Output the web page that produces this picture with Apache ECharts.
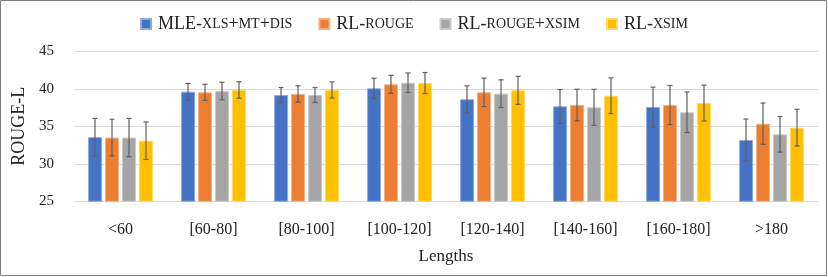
<!DOCTYPE html>
<html><head><meta charset="utf-8">
<script src="https://cdn.jsdelivr.net/npm/echarts@6/dist/echarts.min.js"></script>
<style>html,body{margin:0;padding:0;background:#fff}#c{width:828px;height:277px}</style>
</head><body><div id="c"></div>
<script>
const categories = ['<60', '[60-80]', '[80-100]', '[100-120]', '[120-140]', '[140-160]', '[160-180]', '>180'];
const seriesNames = ['MLE-xls+mt+dis', 'RL-rouge', 'RL-rouge+xsim', 'RL-xsim'];
const mleValues = [33.55, 39.62, 39.17, 40.06, 38.6, 37.66, 37.57, 33.17];
const mleErr = [2.5, 1.1, 1.0, 1.35, 1.8, 2.25, 2.65, 2.8];
const rougeValues = [33.5, 39.53, 39.31, 40.6, 39.53, 37.84, 37.84, 35.35];
const rougeErr = [2.45, 1.07, 1.1, 1.2, 1.9, 2.1, 2.6, 2.75];
const rougeXsimValues = [33.5, 39.7, 39.17, 40.81, 39.35, 37.53, 36.87, 33.93];
const rougeXsimErr = [2.55, 1.17, 1.0, 1.3, 1.85, 2.4, 2.7, 2.37];
const xsimValues = [33.08, 39.84, 39.84, 40.77, 39.8, 39.08, 38.1, 34.81];
const xsimErr = [2.5, 1.1, 1.08, 1.4, 1.87, 2.38, 2.4, 2.45];
const yTicks = [25, 30, 35, 40, 45];

const values = [mleValues, rougeValues, rougeXsimValues, xsimValues];
const errs = [mleErr, rougeErr, rougeXsimErr, xsimErr];
const colors = ['#4472C4', '#ED7D31', '#A5A5A5', '#FFC000'];
const borders = ['#8faadc', '#f4b183', '#c9c9c9', '#ffd966'];
const FONT = '"Liberation Serif", serif';
const BAR_W = 14, STEP = 17;

const legendRich = {
  p: {width: 2, fontFamily: FONT, fontSize: 18},
  n: {fontFamily: FONT, fontSize: 18, color: '#222'},
  s: {fontFamily: FONT, fontSize: 14, color: '#222'}
};
const legendFmt = {
  'MLE-xls+mt+dis': '{p|}{n|MLE-}{s|XLS}{n|+}{s|MT}{n|+}{s|DIS}',
  'RL-rouge': '{p|}{n|RL-}{s|ROUGE}',
  'RL-rouge+xsim': '{p|}{n|RL-}{s|ROUGE}{n|+}{s|XSIM}',
  'RL-xsim': '{p|}{n|RL-}{s|XSIM}'
};

const series = [];
seriesNames.forEach((name, k) => {
  series.push({
    name: name, type: 'bar', data: values[k], barWidth: BAR_W, barGap: '21%',
    itemStyle: {color: colors[k], borderColor: borders[k], borderWidth: 1},
    z: 2
  });
});
seriesNames.forEach((name, k) => {
  series.push({
    name: name, type: 'custom', z: 5,
    data: values[k].map((v, i) => [i, v - errs[k][i], v + errs[k][i]]),
    renderItem: function (params, api) {
      const lo = api.coord([api.value(0), api.value(1)]);
      const hi = api.coord([api.value(0), api.value(2)]);
      const x = lo[0] + (k - 1.5) * STEP;
      const cw = 2.5;
      const st = {stroke: '#5f5f5f', lineWidth: 1.2};
      return {type: 'group', children: [
        {type: 'line', shape: {x1: x, y1: lo[1], x2: x, y2: hi[1]}, style: st},
        {type: 'line', shape: {x1: x - cw, y1: lo[1], x2: x + cw, y2: lo[1]}, style: st},
        {type: 'line', shape: {x1: x - cw, y1: hi[1], x2: x + cw, y2: hi[1]}, style: st}
      ]};
    }
  });
});

const chart = echarts.init(document.getElementById('c'), null, {renderer: 'canvas'});
chart.setOption({
  animation: false,
  backgroundColor: '#fff',
  graphic: [{type: 'rect', shape: {x: 0.5, y: 0.5, width: 826, height: 275},
    style: {fill: 'none', stroke: '#7f7f7f', lineWidth: 1}, z: 100}],
  legend: {
    data: seriesNames, top: 10, left: 'center',
    itemWidth: 10, itemHeight: 10, itemGap: 26,
    icon: 'rect',
    formatter: n => legendFmt[n],
    textStyle: {fontFamily: FONT, fontSize: 18, color: '#222', rich: legendRich}
  },
  grid: {left: 74, right: 10, top: 51.3, bottom: 75.7},
  xAxis: {
    type: 'category', data: categories,
    axisLine: {show: false}, axisTick: {show: false},
    axisLabel: {fontFamily: FONT, fontSize: 16, color: '#222', margin: 20},
    name: 'Lengths', nameLocation: 'middle', nameGap: 47,
    nameTextStyle: {fontFamily: FONT, fontSize: 17, color: '#222'}
  },
  yAxis: {
    type: 'value', min: yTicks[0], max: yTicks[yTicks.length - 1], interval: 5,
    axisLine: {show: false}, axisTick: {show: false},
    splitLine: {lineStyle: {color: '#d9d9d9', width: 1}},
    axisLabel: {fontFamily: FONT, fontSize: 15, color: '#222', margin: 20},
    name: 'ROUGE-L', nameLocation: 'middle', nameGap: 33,
    nameTextStyle: {fontFamily: FONT, fontSize: 18, color: '#222'}
  },
  series: series
});
</script></body></html>
